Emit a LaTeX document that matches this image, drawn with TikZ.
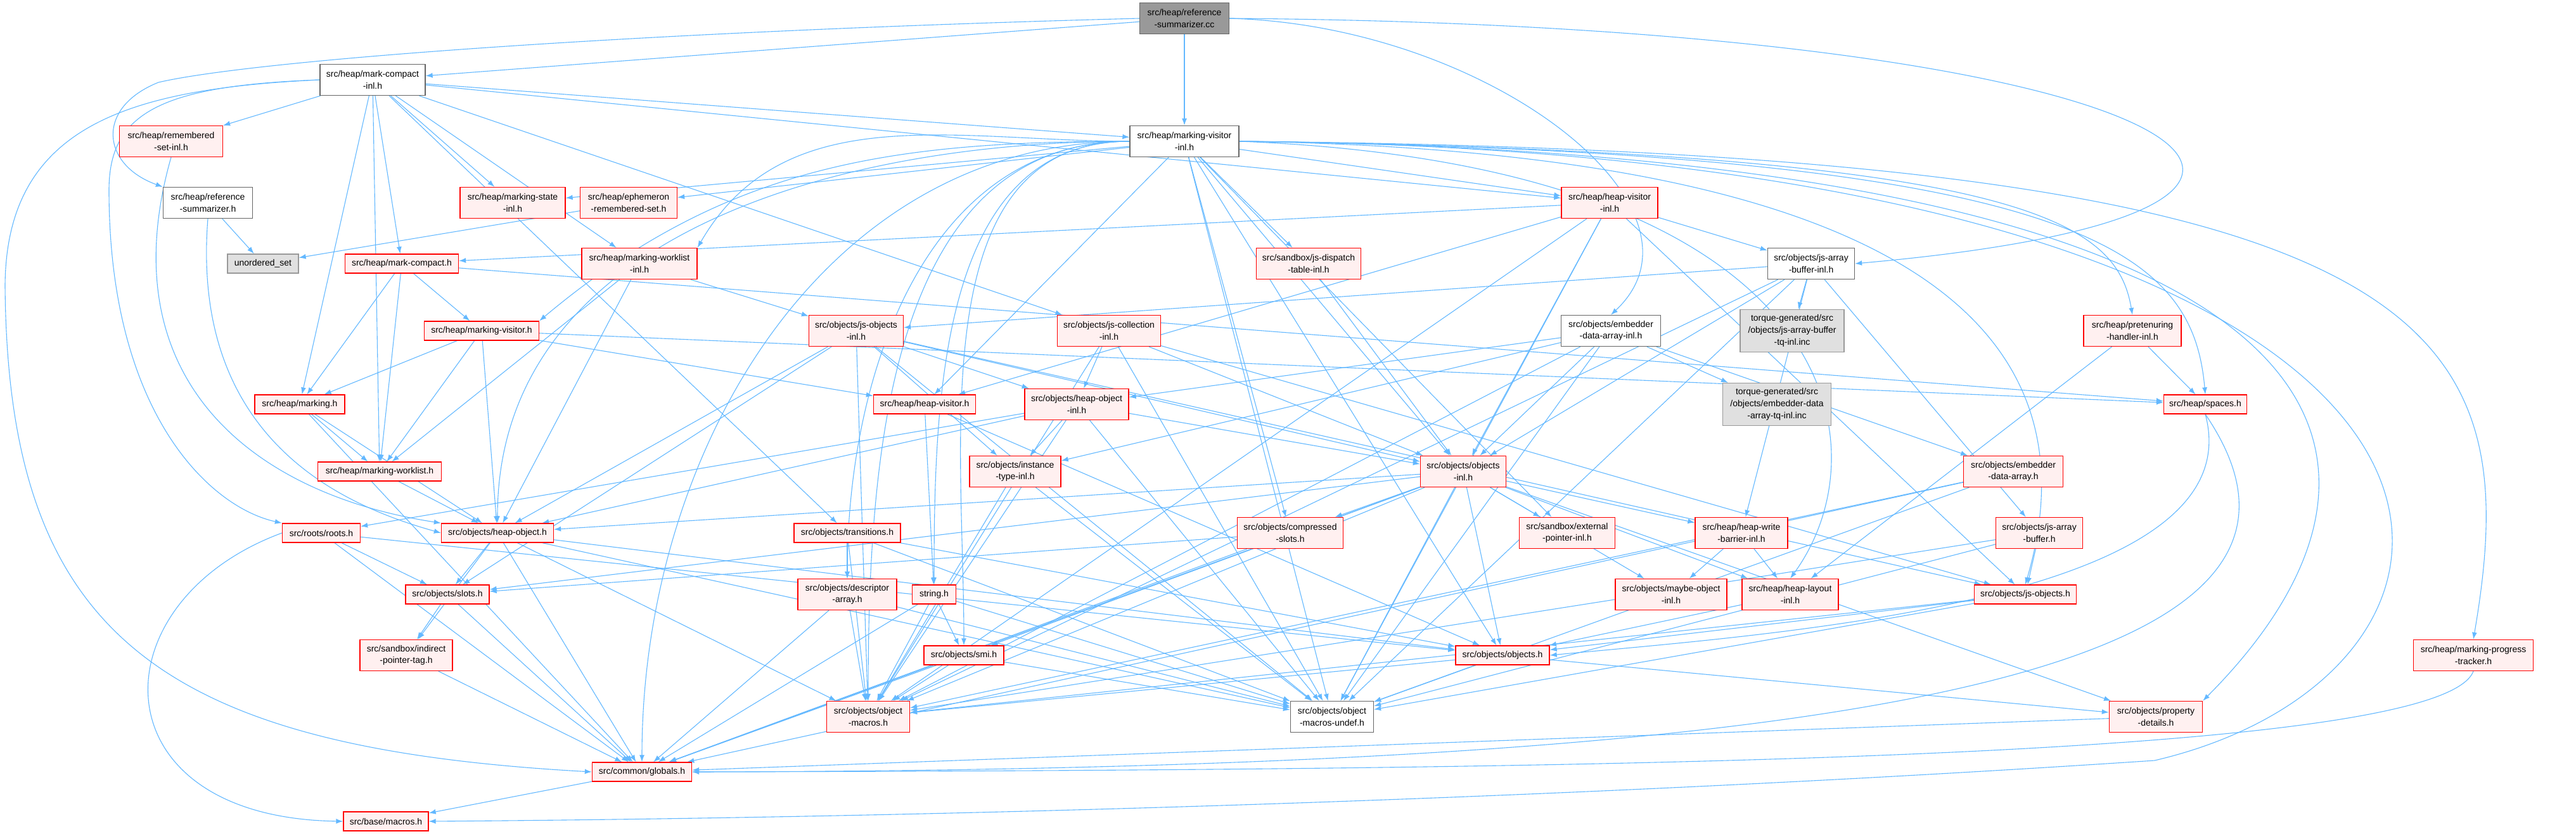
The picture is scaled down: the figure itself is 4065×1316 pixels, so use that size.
\documentclass[tikz,border=0pt]{standalone}
\usepackage{fontspec}
\setmainfont{Liberation Sans}
\usetikzlibrary{arrows.meta,backgrounds}
\definecolor{edgec}{HTML}{63B8FF}
\definecolor{redfill}{HTML}{FFF0F0}
\definecolor{grayfill}{HTML}{E0E0E0}
\tikzset{
  base/.style={draw, line width=1.3pt, inner sep=0pt, align=center, font=\fontsize{14}{18.7}\selectfont},
  rednode/.style={base, draw=red, fill=redfill},
  whitenode/.style={base, draw=black!60, fill=white},
  graynode/.style={base, draw=black!40, fill=grayfill},
  rootnode/.style={base, draw=black!60, fill=black!40},
  e/.style={draw=edgec, line width=1.1pt, -{Latex[length=11pt,width=8pt]}},
}
\newcommand\nd[7]{\node[#6, minimum width=#4pt, minimum height=#5pt] (#1) at (#2,#3) {#7};}
\begin{document}
\begin{tikzpicture}[x=1pt,y=-1pt]
\useasboundingbox (0,0) rectangle (4065,1316);
\nd{cc}{1869}{29}{141}{49}{rootnode}{src/heap/reference\\-summarizer.cc}
\nd{mci}{588}{126}{166}{49}{whitenode}{src/heap/mark-compact\\-inl.h}
\nd{mvi}{1869}{223}{172}{49}{whitenode}{src/heap/marking-visitor\\-inl.h}
\nd{rsi}{270}{223}{163}{49}{rednode}{src/heap/remembered\\-set-inl.h}
\nd{rsh}{328}{320}{141}{49}{whitenode}{src/heap/reference\\-summarizer.h}
\nd{msi}{809}{320}{166}{49}{rednode}{src/heap/marking-state\\-inl.h}
\nd{ers}{992}{320}{153}{49}{rednode}{src/heap/ephemeron\\-remembered-set.h}
\nd{hvi}{2540}{320}{152}{49}{rednode}{src/heap/heap-visitor\\-inl.h}
\nd{us}{415}{416}{112}{30}{graynode}{unordered\_set}
\nd{mch}{634}{416}{179}{30}{rednode}{src/heap/mark-compact.h}
\nd{mwi}{1009}{416}{182}{49}{rednode}{src/heap/marking-worklist\\-inl.h}
\nd{jdt}{2065}{416}{165}{49}{rednode}{src/sandbox/js-dispatch\\-table-inl.h}
\nd{jabi}{2858}{416}{137}{49}{whitenode}{src/objects/js-array\\-buffer-inl.h}
\nd{mvh}{760}{522}{181}{30}{rednode}{src/heap/marking-visitor.h}
\nd{joi}{1351}{522}{149}{49}{rednode}{src/objects/js-objects\\-inl.h}
\nd{jci}{1750}{522}{163}{49}{rednode}{src/objects/js-collection\\-inl.h}
\nd{edai}{2542}{522}{157}{49}{whitenode}{src/objects/embedder\\-data-array-inl.h}
\nd{tqjab}{2828}{522}{164}{67}{graynode}{torque-generated/src\\/objects/js-array-buffer\\-tq-inl.inc}
\nd{phi}{3365}{522}{154}{49}{rednode}{src/heap/pretenuring\\-handler-inl.h}
\nd{mh}{473}{638}{142}{30}{rednode}{src/heap/marking.h}
\nd{hvh}{1459}{638}{161}{30}{rednode}{src/heap/heap-visitor.h}
\nd{hoi}{1699}{638}{164}{49}{rednode}{src/objects/heap-object\\-inl.h}
\nd{tqeda}{2804}{638}{171}{67}{graynode}{torque-generated/src\\/objects/embedder-data\\-array-tq-inl.inc}
\nd{sp}{3480}{638}{131}{30}{rednode}{src/heap/spaces.h}
\nd{mwh}{599}{744}{195}{30}{rednode}{src/heap/marking-worklist.h}
\nd{iti}{1602}{744}{144}{49}{rednode}{src/objects/instance\\-type-inl.h}
\nd{oi}{2309}{744}{135}{49}{rednode}{src/objects/objects\\-inl.h}
\nd{eda}{3177}{744}{157}{49}{rednode}{src/objects/embedder\\-data-array.h}
\nd{roots}{507}{841}{123}{30}{rednode}{src/roots/roots.h}
\nd{ho}{785}{841}{177}{30}{rednode}{src/objects/heap-object.h}
\nd{tr}{1337}{841}{168}{30}{rednode}{src/objects/transitions.h}
\nd{cs}{2036}{841}{167}{49}{rednode}{src/objects/compressed\\-slots.h}
\nd{epi}{2473}{841}{151}{49}{rednode}{src/sandbox/external\\-pointer-inl.h}
\nd{hwb}{2748}{841}{146}{49}{rednode}{src/heap/heap-write\\-barrier-inl.h}
\nd{jab}{3218}{841}{137}{49}{rednode}{src/objects/js-array\\-buffer.h}
\nd{sl}{706}{938}{132}{30}{rednode}{src/objects/slots.h}
\nd{da}{1337}{938}{156}{49}{rednode}{src/objects/descriptor\\-array.h}
\nd{str}{1474}{938}{69}{30}{rednode}{string.h}
\nd{moi}{2637}{938}{176}{49}{rednode}{src/objects/maybe-object\\-inl.h}
\nd{hli}{2825}{938}{152}{49}{rednode}{src/heap/heap-layout\\-inl.h}
\nd{jo}{3196}{938}{161}{30}{rednode}{src/objects/js-objects.h}
\nd{ipt}{641}{1034}{146}{49}{rednode}{src/sandbox/indirect\\-pointer-tag.h}
\nd{smi}{1521}{1034}{126}{30}{rednode}{src/objects/smi.h}
\nd{ob}{2371}{1034}{148}{30}{rednode}{src/objects/objects.h}
\nd{mpt}{3903}{1034}{189}{49}{rednode}{src/heap/marking-progress\\-tracker.h}
\nd{om}{1370}{1131}{131}{49}{rednode}{src/objects/object\\-macros.h}
\nd{omu}{2102}{1131}{131}{49}{whitenode}{src/objects/object\\-macros-undef.h}
\nd{pd}{3402}{1131}{147}{49}{rednode}{src/objects/property\\-details.h}
\nd{gl}{1013}{1218}{157}{30}{rednode}{src/common/globals.h}
\nd{bm}{609}{1296}{134}{30}{rednode}{src/base/macros.h}
\begin{scope}[on background layer]
\foreach \s/\t in {cc/mci,cc/mvi,
 mci/rsi,mci/mch,mci/msi,mci/mvi,mci/mwi,mci/mwh,mci/mh,mci/hvi,mci/jci,mci/tr,
 rsh/us,ers/us,
 hvi/jabi,hvi/mch,hvi/hvh,hvi/oi,hvi/jo,hvi/om,hvi/omu,
 mch/mvh,mch/mh,mch/mwh,mch/sp,
 mwi/joi,mwi/mwh,mwi/ho,jdt/oi,
 jabi/tqjab,jabi/hwb,jabi/jab,jabi/oi,jabi/om,jabi/omu,jabi/joi,
 mvi/ers,mvi/msi,mvi/jdt,mvi/epi,mvi/hvi,mvi/hvh,mvi/omu,mvi/ob,mvi/cs,mvi/oi,
 mvh/mh,mvh/mwh,mvh/sp,mvh/hvh,mvh/ho,
 joi/hoi,joi/iti,joi/ho,joi/om,joi/omu,joi/oi,joi/jo,joi/sl,
 jci/hoi,jci/oi,jci/om,jci/omu,jci/jo,
 edai/tqeda,edai/eda,edai/oi,edai/hoi,edai/iti,edai/om,edai/omu,
 phi/sp,phi/hli,mh/mwh,mh/ho,mh/gl,hvh/str,hvh/ob,
 hoi/iti,hoi/ho,hoi/oi,hoi/om,hoi/omu,hoi/roots,
 mwh/ho,iti/om,iti/omu,
 oi/ho,oi/sl,oi/ob,oi/om,oi/omu,oi/gl,oi/epi,oi/hwb,oi/hli,oi/moi,oi/smi,oi/cs,oi/pd,
 eda/om,eda/omu,eda/gl,roots/sl,roots/gl,roots/ob,
 ho/sl,ho/ipt,ho/gl,ho/om,ho/omu,ho/ob,tr/da,tr/om,tr/omu,tr/ob,
 cs/sl,cs/gl,hwb/moi,hwb/hli,jab/jo,jab/om,jab/omu,jo/om,jo/omu,jo/ob,
 sl/ipt,sl/gl,da/gl,da/om,da/omu,str/gl,str/om,str/smi,str/omu,hli/ob,ipt/gl,
 smi/om,smi/omu,smi/gl,ob/om,ob/omu,ob/pd,pd/gl,gl/bm}
  \draw[e] (\s) -- (\t);
% marking-visitor-inl.h: connectors leaving its left side
\draw[e] (mvi.west) to[out=180,in=60] (mwi.north east);
\draw[e] (mvi.west) to[out=180,in=40] (mvh.north east);
\foreach \t in {ho,gl,om,da,str,smi}
  \draw[e] (mvi.west) to[out=180,in=90] (\t.north);
% long routed connectors
\draw[e] (cc.west) .. controls (1000,50) and (400,95) .. (250,130) .. controls (150,170) and (160,260) .. (rsh.north west);
\draw[e] (cc.east) .. controls (3450,40) and (3900,330) .. (jabi.east);
\draw[e] (cc.east) .. controls (2350,40) and (2720,330) .. (edai.north);
\draw[e] (mci.west) .. controls (200,140) and (10,200) .. (8,450) .. controls (12,1000) and (250,1180) .. (gl.west);
\draw[e] (mci.west) .. controls (250,135) and (172,180) .. (172,300) .. controls (172,650) and (330,800) .. (roots.north west);
\draw[e] (rsh.south) .. controls (300,700) and (550,800) .. (ho.west);
\draw[e] (rsi.south) .. controls (170,600) and (400,780) .. (ho.north west);
\draw[e] (roots.west) .. controls (150,950) and (150,1290) .. (bm.west);
\draw[e] (mvi.east) .. controls (4040,240) and (4040,1050) .. (3400,1200) .. controls (2500,1260) and (1500,1290) .. (bm.east);
\draw[e] (mvi.east) .. controls (3850,240) and (3990,500) .. (mpt.north);
\draw[e] (mvi.east) .. controls (3700,240) and (3880,700) .. (pd.north east);
\draw[e] (mvi.east) .. controls (3200,240) and (3340,350) .. (phi.north);
\draw[e] (mvi.east) .. controls (3300,240) and (3460,400) .. (sp.north);
\draw[e] (mvi.east) .. controls (3150,240) and (3290,600) .. (jo.north);
\draw[e] (mvi.east) .. controls (2900,260) and (2980,700) .. (hli.north);
\draw[e] (sp.south) .. controls (3560,950) and (2800,1000) .. (ob.east);
\draw[e] (sp.south) .. controls (3750,1050) and (3000,1215) .. (gl.east);
\draw[e] (mpt.south) .. controls (3850,1200) and (2500,1215) .. (gl.east);
\end{scope}
\end{tikzpicture}
\end{document}
